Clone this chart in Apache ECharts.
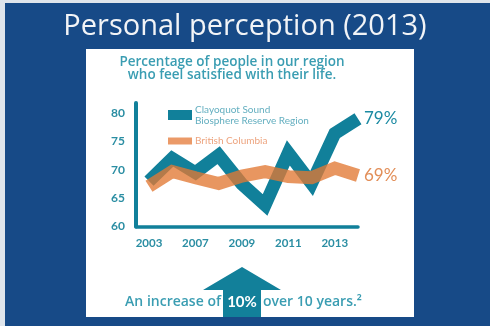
<!DOCTYPE html>
<html>
<head>
<meta charset="utf-8">
<style>
  html, body { margin: 0; padding: 0; background: #174a87; }
  #chart { width: 490px; height: 326px; }
</style>
<script src="https://cdn.jsdelivr.net/npm/echarts@6/dist/echarts.min.js"></script>
</head>
<body>
<div id="chart"></div>
<script>
// Period labels for each data point (blank = point without a tick label)
const periods = ['2003', '', '2007', '', '2009', '', '2011', '', '2013', ''];
// Share of people satisfied with their life (%)
const clayoquot = [68, 72, 69.5, 72.6, 67.5, 63.8, 73, 67.6, 76.4, 79];
const britishColumbia = [67.1, 69.7, 68.6, 67.6, 68.9, 69.7, 68.8, 68.6, 70.3, 69];
// Value axis ticks
const yTicks = [60, 65, 70, 75, 80];
const seriesNames = ['Clayoquot Sound Biosphere Reserve Region', 'British Columbia'];

const TEAL = '#11809a';
const ORANGE = '#e27833';
const TEXT_TEAL = '#3a9db2';

const chart = echarts.init(document.getElementById('chart'), null, { renderer: 'canvas' });

const toPairs = arr => arr.map((v, i) => [i, v]);
const tickIdx = periods.map((p, i) => (p ? i : -1)).filter(i => i >= 0);

chart.setOption({
  backgroundColor: '#174a87',
  animation: false,
  title: [{
    text: 'Personal perception (2013)',
    left: 'center', top: 7,
    textStyle: { color: '#f2f4f7', fontSize: 29, fontWeight: 'normal', fontFamily: 'Open Sans' }
  }, {
    text: 'Percentage of people in our region\nwho feel satisfied with their life.',
    left: 227, top: 51, textAlign: 'center',
    textStyle: { color: TEXT_TEAL, fontSize: 13.5, fontWeight: 600, lineHeight: 12.5, fontFamily: 'Open Sans' }
  }],
  legend: [{
    data: [seriesNames[0]],
    left: 163, top: 99,
    icon: 'rect', itemWidth: 24, itemHeight: 10, itemGap: 0,
    formatter: () => 'Clayoquot Sound\nBiosphere Reserve Region',
    itemStyle: { opacity: 1 },
    textStyle: { color: '#64afc0', fontSize: 10, lineHeight: 11, fontFamily: 'Lato', padding: [0, 0, 0, -2] }
  }, {
    data: [seriesNames[1]],
    left: 163, top: 131,
    icon: 'rect', itemWidth: 24, itemHeight: 7, itemGap: 0,
    itemStyle: { opacity: 1, color: '#eb9a68' },
    textStyle: { color: '#eda47f', fontSize: 10, fontFamily: 'Lato', padding: [0, 0, 0, -2] }
  }],
  grid: { left: 136, right: 132, top: 103, bottom: 99.5, containLabel: false },
  xAxis: {
    type: 'value', min: -0.56, max: 9,
    axisLine: { show: true, onZero: false, lineStyle: { color: TEAL, width: 3.5 } },
    axisTick: { show: false },
    splitLine: { show: false },
    axisLabel: {
      customValues: tickIdx,
      formatter: v => periods[Math.round(v)] || '',
      color: '#2b8ea3', fontSize: 11.5, fontWeight: 'bold', fontFamily: 'Lato', margin: 11
    }
  },
  yAxis: {
    type: 'value', min: 60, max: 81.8,
    axisLine: { show: true, onZero: false, lineStyle: { color: TEAL, width: 4 } },
    axisTick: { show: false },
    splitLine: { show: false },
    axisLabel: {
      customValues: yTicks,
      color: '#2b8ea3', fontSize: 12, fontWeight: 'bold', fontFamily: 'Lato', margin: 11
    }
  },
  series: [{
    name: seriesNames[0],
    type: 'line',
    data: toPairs(clayoquot),
    symbol: 'none',
    z: 2,
    itemStyle: { color: TEAL },
    lineStyle: { color: TEAL, width: 13, join: 'miter', cap: 'butt' },
    endLabel: {
      show: true, distance: 6,
      formatter: p => Math.round(p.value[1]) + '%',
      color: '#1b8aa2', fontSize: 17, fontFamily: 'Lato'
    }
  }, {
    name: seriesNames[1],
    type: 'line',
    data: toPairs(britishColumbia),
    symbol: 'none',
    z: 3,
    itemStyle: { color: ORANGE },
    lineStyle: { color: ORANGE, width: 13, opacity: 0.78, join: 'miter', cap: 'butt' },
    endLabel: {
      show: true, distance: 6,
      formatter: p => Math.round(p.value[1]) + '%',
      color: '#e28e58', fontSize: 17, fontFamily: 'Lato'
    }
  }],
  graphic: [
    // light frame edges
    { type: 'rect', z: -20, shape: { x: 0, y: 0, width: 490, height: 3 }, style: { fill: '#dfe5ec' } },
    { type: 'rect', z: -20, shape: { x: 0, y: 0, width: 5, height: 326 }, style: { fill: '#dfe5ec' } },
    // white panel
    { type: 'rect', z: -10, shape: { x: 86, y: 49, width: 328, height: 268 }, style: { fill: '#ffffff' } },
    // up arrow
    {
      type: 'polygon', z: 5,
      shape: { points: [[242, 267], [281, 290], [261, 290], [261, 317], [223, 317], [223, 290], [203, 290]] },
      style: { fill: '#12809a' }
    },
    {
      type: 'text', z: 6, x: 242, y: 302,
      style: { text: '10%', fill: '#ffffff', fontSize: 15, fontWeight: 'bold', fontFamily: 'Lato', align: 'center', verticalAlign: 'middle' }
    },
    {
      type: 'text', z: 6, x: 221, y: 302,
      style: { text: 'An increase of', fill: TEXT_TEAL, fontSize: 14, fontWeight: 600, fontFamily: 'Open Sans', align: 'right', verticalAlign: 'middle' }
    },
    {
      type: 'text', z: 6, x: 263, y: 302,
      style: { text: 'over 10 years.²', fill: TEXT_TEAL, fontSize: 14, fontWeight: 600, fontFamily: 'Open Sans', align: 'left', verticalAlign: 'middle' }
    }
  ]
});
</script>
</body>
</html>
